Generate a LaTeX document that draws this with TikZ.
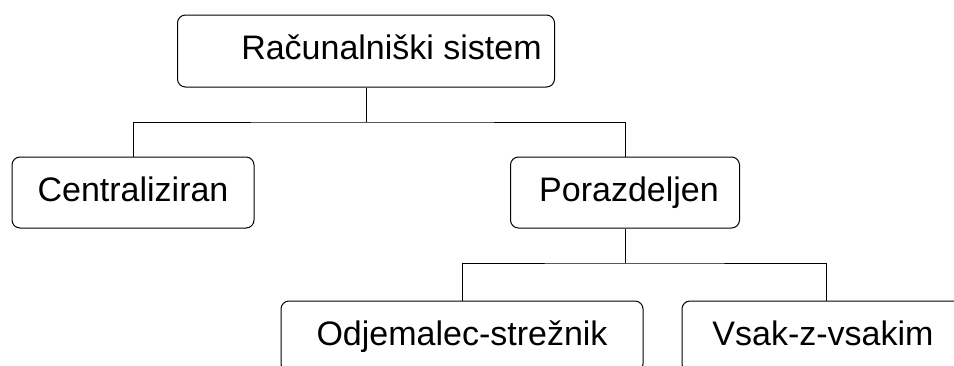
\documentclass[tikz,border=0pt]{standalone}
\usepackage{fontspec}
\setmainfont{Liberation Sans}
\begin{document}
\begin{tikzpicture}[x=1pt,y=-1pt,
  box/.style={draw=black, line width=1pt, rounded corners=8pt, fill=white,
    inner sep=0pt, text height=24.3pt, text depth=7pt,
    font=\fontsize{34pt}{40pt}\selectfont},
  link/.style={draw=black, line width=1pt}]
\clip (0,0) rectangle (954,365);
\fill[white] (0,0) rectangle (954,365);

% tree of system types
\node[box, minimum width=377pt, minimum height=72pt] (root) at (366,51)
  {\hspace*{51pt}Računalniški sistem};
\node[box, minimum width=242pt, minimum height=71pt] (cent) at (133,192.5)
  {Centraliziran};
\node[box, minimum width=229pt, minimum height=71pt] (por) at (625,192.5)
  {\hspace*{8pt}Porazdeljen};
\node[box, minimum width=362pt, minimum height=71pt] (cs) at (462,336.5)
  {Odjemalec-strežnik};
\node[box, minimum width=288pt, minimum height=71pt] (p2p) at (826,336.5)
  {\hspace*{-6pt}Vsak-z-vsakim};

% branching connectors
\coordinate (j1) at (root.south |- 0,122);
\coordinate (j2) at (por.south |- 0,263);
\draw[link] (root.south) -- (j1);
\draw[link] (cent.north) |- (j1) -| (por.north);
\draw[link] (por.south) -- (j2);
\draw[link] (cs.north) |- (j2) -| (p2p.north);
\end{tikzpicture}
\end{document}
